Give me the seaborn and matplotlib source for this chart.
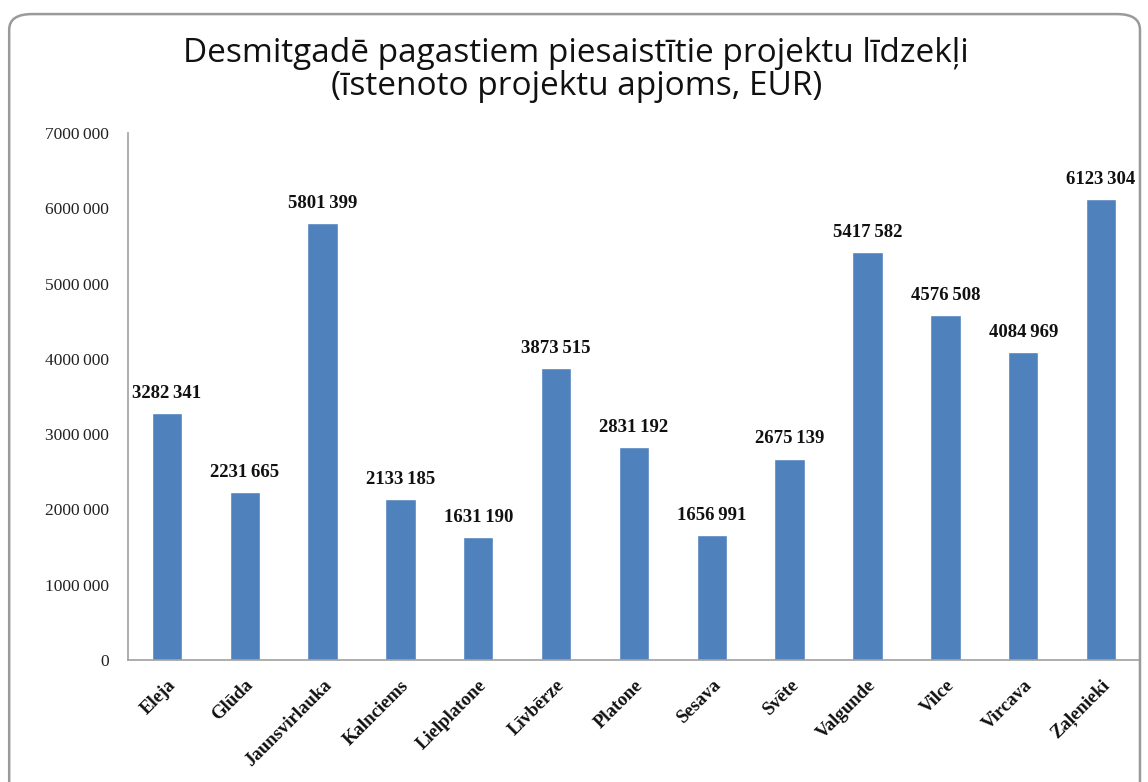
import matplotlib
matplotlib.use("Agg")
import matplotlib.pyplot as plt
import seaborn as sns
import pandas as pd
from matplotlib.patches import FancyBboxPatch

categories = ["Eleja", "Glūda", "Jaunsvirlauka", "Kalnciems", "Lielplatone", "Līvbērze",
              "Platone", "Sesava", "Svēte", "Valgunde", "Vilce", "Vircava", "Zaļenieki"]
values = [3282341, 2231665, 5801399, 2133185, 1631190, 3873515,
          2831192, 1656991, 2675139, 5417582, 4576508, 4084969, 6123304]
yticks = [0, 1000000, 2000000, 3000000, 4000000, 5000000, 6000000, 7000000]

def fmt(v):
    v = int(v)
    if v < 1000:
        return str(v)
    return f"{v // 1000}\u2009{v % 1000:03d}"

sns.set_theme(style="white")
plt.rcParams['font.family'] = ['Liberation Serif', 'DejaVu Serif']

df = pd.DataFrame({"cat": categories, "val": values})

fig = plt.figure(figsize=(11.48, 7.82), dpi=100)
ax = fig.add_axes([0.1115, 0.156, 0.8815, 0.674])

sns.barplot(data=df, x="cat", y="val", color="#4F81BD", saturation=1, width=0.39, ax=ax)
ax.set_xlim(-0.5, len(categories) - 0.5)
ax.set_ylim(0, 7000000)
ax.set_yticks(yticks)
ax.set_yticklabels([fmt(t) for t in yticks], fontsize=12.5, color="#222222")
ax.set_xticks(range(len(categories)))
ax.set_xticklabels(categories, rotation=45, ha="right", rotation_mode="anchor",
                   fontsize=13.5, fontweight="bold", color="#111111")
ax.tick_params(axis="y", length=0, pad=14)
ax.tick_params(axis="x", length=0, pad=12)
ax.set_xlabel("")
ax.set_ylabel("")
for s in ["top", "right"]:
    ax.spines[s].set_visible(False)
for s in ["left", "bottom"]:
    ax.spines[s].set_color("#A0A0A0")
    ax.spines[s].set_linewidth(1.2)

for c in ax.containers:
    ax.bar_label(c, labels=[fmt(v) for v in values], padding=8,
                 fontsize=13.5, fontweight="bold", color="#111111")

fig.text(0.502, 0.91, "Desmitgadē pagastiem piesaistītie projektu līdzekļi\n(īstenoto projektu apjoms, EUR)",
         ha="center", va="center", fontsize=24, family=["Open Sans", "DejaVu Sans"],
         color="#111111", linespacing=1.0)

frame = FancyBboxPatch((0.008, -0.05), 0.985, 1.032, boxstyle="round,pad=0,rounding_size=0.02",
                       transform=fig.transFigure, fill=False, edgecolor="#9A9A9A", linewidth=1.8)
fig.patches.append(frame)

fig.savefig("out.png", dpi=100)
